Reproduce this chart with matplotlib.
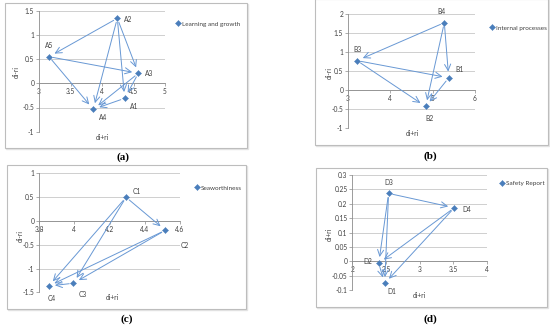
import matplotlib
matplotlib.use("Agg")
import matplotlib.pyplot as plt
from matplotlib.patches import Rectangle

W, H = 550, 328

# ---------------- data ----------------
a_names = ["A1", "A2", "A3", "A4", "A5"]
a_x = [4.36, 4.243, 4.577, 3.862, 3.159]
a_y = [-0.31, 1.343, 0.207, -0.537, 0.55]
a_links = [("A2", "A5"), ("A2", "A4"), ("A2", "A1"), ("A2", "A3"), ("A5", "A3"),
           ("A5", "A4"), ("A3", "A4"), ("A3", "A1"), ("A1", "A4")]
a_xticks = [3, 3.5, 4, 4.5, 5]
a_xticklabels = ["3", "3.5", "4", "4.5", "5"]
a_yticks = [-1, -0.5, 0, 0.5, 1, 1.5]
a_yticklabels = ["-1", "-0.5", "0", "0.5", "1", "1.5"]
a_series = "Learning and growth"

b_names = ["B1", "B2", "B3", "B4"]
b_x = [5.379, 4.835, 3.213, 5.275]
b_y = [0.316, -0.44, 0.77, 1.77]
b_links = [("B4", "B3"), ("B4", "B2"), ("B4", "B1"), ("B3", "B1"), ("B3", "B2"), ("B1", "B2")]
b_xticks = [3, 4, 5, 6]
b_xticklabels = ["3", "4", "5", "6"]
b_yticks = [-1, -0.5, 0, 0.5, 1, 1.5, 2]
b_yticklabels = ["-1", "-0.5", "0", "0.5", "1", "1.5", "2"]
b_series = "Internal processes"

c_names = ["C1", "C2", "C3", "C4"]
c_x = [4.294, 4.517, 3.995, 3.855]
c_y = [0.496, -0.197, -1.31, -1.368]
c_links = [("C1", "C2"), ("C1", "C4"), ("C1", "C3"), ("C2", "C4"), ("C2", "C3"), ("C3", "C4")]
c_xticks = [3.8, 4.0, 4.2, 4.4, 4.6]
c_xticklabels = ["3.8", "4", "4.2", "4.4", "4.6"]
c_yticks = [-1.5, -1, -0.5, 0, 0.5, 1]
c_yticklabels = ["-1.5", "-1", "-0.5", "0", "0.5", "1"]
c_series = "Seaworthiness"

d_names = ["D1", "D2", "D3", "D4"]
d_x = [2.482, 2.393, 2.54, 3.518]
d_y = [-0.077, -0.007, 0.236, 0.186]
d_links = [("D3", "D4"), ("D3", "D2"), ("D3", "D1"), ("D4", "D2"), ("D4", "D1"), ("D2", "D1")]
d_xticks = [2, 2.5, 3, 3.5, 4]
d_xticklabels = ["2", "2.5", "3", "3.5", "4"]
d_yticks = [-0.1, -0.05, 0, 0.05, 0.1, 0.15, 0.2, 0.25, 0.3]
d_yticklabels = ["-0.1", "-0.05", "0", "0.05", "0.1", "0.15", "0.2", "0.25", "0.3"]
d_series = "Safety Report"

# ---------------- style ----------------
FONT = "Lato"
plt.rcParams["font.family"] = [FONT, "DejaVu Sans"]
MARK = "#4A7EBB"
ARROW = "#6898D4"
GRID = "#C8C8C8"
AXIS = "#8C8C8C"
TXT = "#404040"
TS = 4.8


def fx(x):
    return x / W


def fy(y):
    return 1 - y / H


fig = plt.figure(figsize=(W / 100, H / 100), dpi=100)


def panel(border, plot, xlim, ylim, xticks, xtl, yticks, ytl, names, xs, ys, links,
          offsets, series, legpos, ylabpos, xlabpos, ylab, letter, letterpos):
    bx0, by0, bx1, by1 = border
    fig.add_artist(Rectangle((fx(bx0) + 1.2 / W, fy(by1) - 1.2 / H), (bx1 - bx0) / W, (by1 - by0) / H,
                             transform=fig.transFigure, facecolor="none",
                             edgecolor="#E4E4E4", lw=1.0, zorder=-2))
    fig.add_artist(Rectangle((fx(bx0), fy(by1)), (bx1 - bx0) / W, (by1 - by0) / H,
                             transform=fig.transFigure, facecolor="white",
                             edgecolor="#BDBDBD", lw=0.8, zorder=-1))
    px0, py0, px1, py1 = plot
    ax = fig.add_axes([fx(px0), fy(py1), (px1 - px0) / W, (py1 - py0) / H])
    ax.set_facecolor("none")
    ax.set_xlim(*xlim)
    ax.set_ylim(*ylim)
    ax.set_xticks(xticks)
    ax.set_xticklabels(xtl)
    ax.set_yticks(yticks)
    ax.set_yticklabels(ytl)
    for s in ("top", "right"):
        ax.spines[s].set_visible(False)
    ax.spines["bottom"].set_position(("data", 0))
    ax.spines["bottom"].set_color(AXIS)
    ax.spines["left"].set_color(AXIS)
    ax.spines["bottom"].set_linewidth(0.6)
    ax.spines["left"].set_linewidth(0.6)
    ax.tick_params(axis="both", labelsize=TS, colors=AXIS, labelcolor=TXT,
                   length=2, width=0.5, pad=1.5)
    ax.grid(axis="y", color=GRID, lw=0.6)
    ax.set_axisbelow(True)
    pos = {n: (x, y) for n, x, y in zip(names, xs, ys)}
    for s, t in links:
        ax.annotate("", xy=pos[t], xytext=pos[s],
                    arrowprops=dict(arrowstyle="->,head_length=0.45,head_width=0.22",
                                    color=ARROW, lw=0.7, shrinkA=3, shrinkB=4.5))
    ax.plot(xs, ys, linestyle="none", marker="D", markersize=3.1, markeredgewidth=0.3,
            color=MARK, label=series, zorder=5)
    for n, x, y in zip(names, xs, ys):
        dx, dy = offsets[n]
        ax.annotate(n, (x, y), xytext=(dx, dy), textcoords="offset points",
                    ha="center", va="center", fontsize=TS, color=TXT)
    ax.legend(loc="center left", bbox_to_anchor=(fx(legpos[0]), fy(legpos[1])),
              bbox_transform=fig.transFigure, frameon=False, fontsize=TS - 0.2,
              handlelength=0.6, handletextpad=0.35, borderpad=0, borderaxespad=0,
              labelcolor=TXT, markerscale=1.0)
    fig.text(fx(ylabpos[0]), fy(ylabpos[1]), ylab, rotation=90, ha="center", va="center",
             fontsize=TS, color=TXT)
    fig.text(fx(xlabpos[0]), fy(xlabpos[1]), "di+ri", ha="center", va="center",
             fontsize=TS, color=TXT)
    fig.text(fx(letterpos[0]), fy(letterpos[1]), letter, ha="center", va="center",
             fontsize=8, fontweight="bold", family="Liberation Serif", color="#000000")
    return ax


panel((5, 3, 247, 148), (39, 10.7, 165, 131.7), (3, 5), (-1, 1.5),
      a_xticks, a_xticklabels, a_yticks, a_yticklabels, a_names, a_x, a_y, a_links,
      {"A1": (7, -6), "A2": (8, -1), "A3": (8, 0), "A4": (7, -6), "A5": (0, 8)},
      a_series, (176, 24), (16, 72), (102, 137), "di-ri", "(a)", (123, 157))

panel((315, -1, 548, 145), (348, 14, 475, 127.7), (3, 6), (-1, 2),
      b_xticks, b_xticklabels, b_yticks, b_yticklabels, b_names, b_x, b_y, b_links,
      {"B1": (8, 6), "B2": (3, -9), "B3": (0, 8), "B4": (-2, 8)},
      b_series, (490, 28), (329, 73), (412, 133), "di-ri", "(b)", (430, 156))

panel((7, 165, 246, 309), (39, 173.3, 180, 292.3), (3.8, 4.6), (-1.5, 1),
      c_xticks, c_xticklabels, c_yticks, c_yticklabels, c_names, c_x, c_y, c_links,
      {"C1": (8, 4), "C2": (14, -11), "C3": (7, -8), "C4": (2, -9)},
      c_series, (195, 188), (20, 236), (112, 297), "di-ri", "(c)", (127, 319))

panel((316, 168, 547, 307), (352.3, 175, 486.7, 290), (2, 4), (-0.1, 0.3),
      d_xticks, d_xticklabels, d_yticks, d_yticklabels, d_names, d_x, d_y, d_links,
      {"D1": (5, -6), "D2": (-8, 1), "D3": (0, 8), "D4": (9, -1)},
      d_series, (500, 183), (329, 234), (419, 295), "di+ri", "(d)", (430, 319))

fig.savefig("out.png", dpi=100, facecolor="white")
